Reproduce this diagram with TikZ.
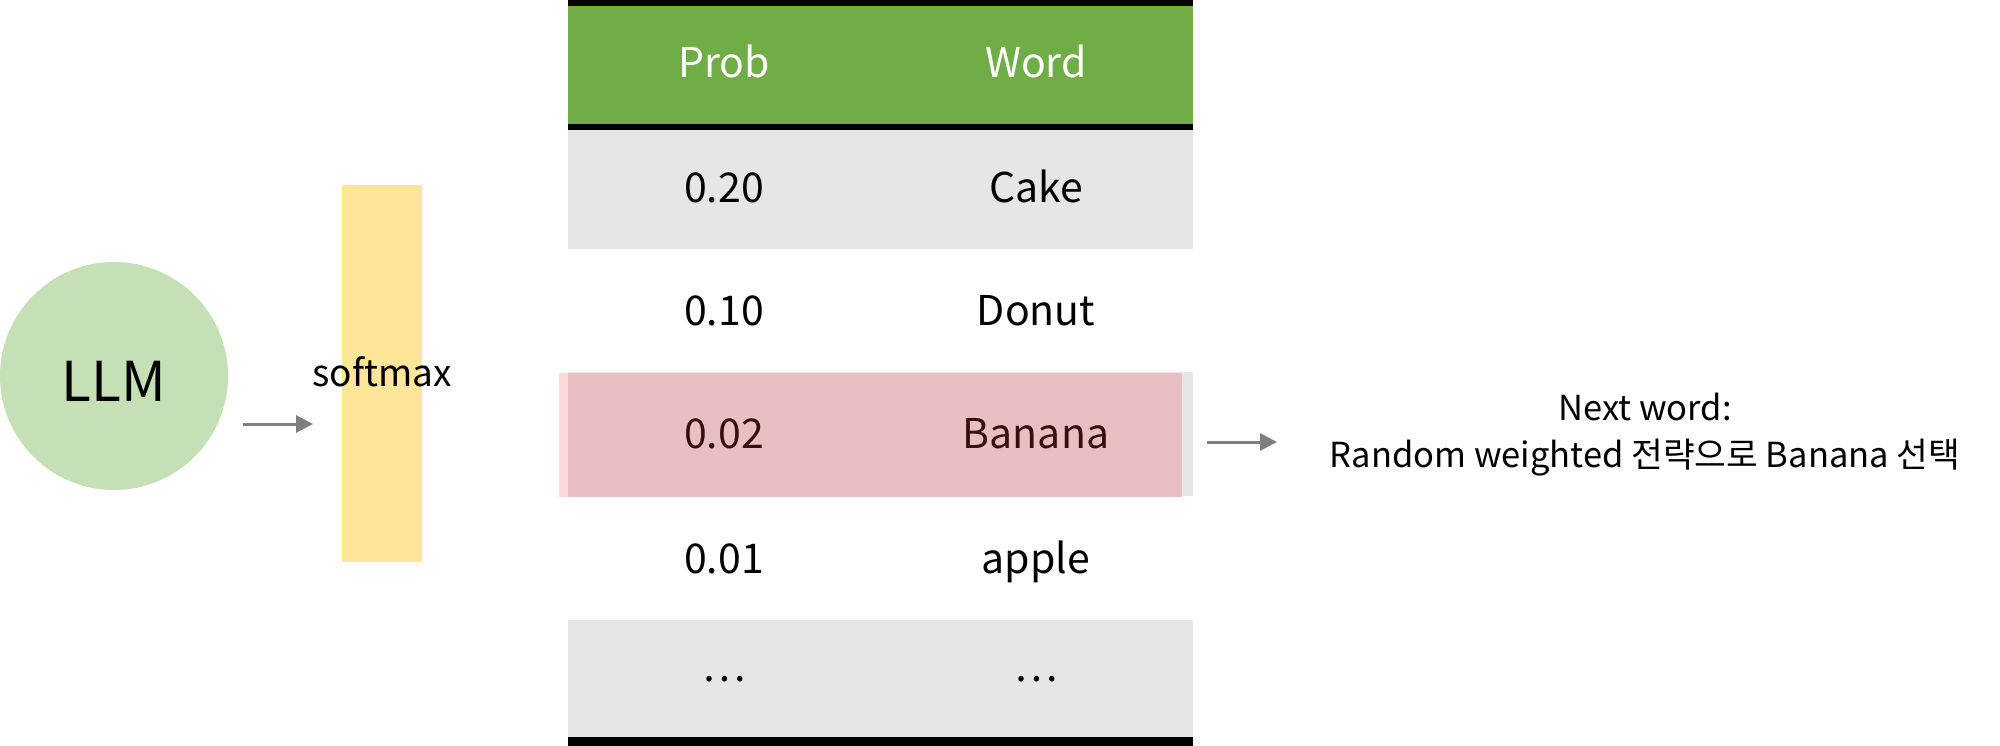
\documentclass[tikz,border=0pt]{standalone}
\usepackage{fontspec}
\setmainfont{Noto Sans CJK KR}
\usetikzlibrary{arrows.meta}
\definecolor{hdrgreen}{HTML}{70AD47}
\definecolor{rowgray}{HTML}{E7E6E6}
\definecolor{llmgreen}{HTML}{C5E0B4}
\definecolor{softyellow}{HTML}{FFE699}
\definecolor{pinkmain}{HTML}{E9C0C1}
\definecolor{pinklight}{HTML}{FFD9D9}
\definecolor{arrgray}{HTML}{7F7F7F}
\definecolor{maroon}{HTML}{3A0C0C}
\tikzset{
  arr/.style={draw=arrgray, line width=3pt, -{Triangle[length=17pt,width=17pt]}},
  tabtxt/.style={anchor=base, inner sep=0pt, font=\fontsize{41}{48}\selectfont},
  hdrtxt/.style={tabtxt, text=white},
  selrow/.style={tabtxt, text=maroon},
  rule/.style={fill=black},
}
\begin{document}
\begin{tikzpicture}[x=1pt,y=-1pt]
\useasboundingbox (0,0) rectangle (2000,746);
% LLM circle
\node[circle, fill=llmgreen, minimum size=228pt, inner sep=0pt] (llm) at (114,376) {};
\node[anchor=base, inner sep=0pt, font=\fontsize{55}{62}\selectfont] (llmtxt) at (114,401) {LLM};
% softmax bar
\node[rectangle, fill=softyellow, minimum width=80pt, minimum height=377pt, inner sep=0pt] (soft) at (382,373.5) {};
\node[anchor=base, inner sep=0pt, font=\fontsize{37}{44}\selectfont] (softtxt) at (382,386) {softmax};
\coordinate (a1s) at (243,424);
\coordinate (a1e) at (313,424);
\draw[arr] (a1s) -- (a1e);
% table
\fill[hdrgreen] (568,6) rectangle (1193,124);
\fill[rowgray] (568,130) rectangle (1193,249);
\fill[rowgray] (568,372) rectangle (1193,496);
\fill[rowgray] (568,620) rectangle (1193,737);
\fill[pinklight] (559,373) rectangle (568,497);
\fill[pinkmain] (568,373) rectangle (1182,497);
\fill[rule] (568,0) rectangle (1193,6);
\fill[rule] (568,124) rectangle (1193,130);
\fill[rule] (568,737) rectangle (1193,746);
\node[hdrtxt] (hprob) at (724,78) {Prob};
\node[hdrtxt] (hword) at (1036,78) {Word};
\node[tabtxt] (p1) at (724,203) {0.20};
\node[tabtxt] (w1) at (1036,203) {Cake};
\node[tabtxt] (p2) at (724,325) {0.10};
\node[tabtxt] (w2) at (1036,325) {Donut};
\node[selrow] (p3) at (724,448) {0.02};
\node[selrow] (w3) at (1036,448) {Banana};
\node[tabtxt] (p4) at (724,573) {0.01};
\node[tabtxt] (w4) at (1036,573) {apple};
\node[tabtxt, anchor=center] (p5) at (724,679) {…};
\node[tabtxt, anchor=center] (w5) at (1036,679) {…};
% result
\coordinate (a2s) at (1207,442);
\coordinate (a2e) at (1277,442);
\draw[arr] (a2s) -- (a2e);
\node[anchor=base, inner sep=0pt, font=\fontsize{34.5}{40}\selectfont] (next1) at (1645,420) {Next word:};
\node[anchor=base, inner sep=0pt, font=\fontsize{34.5}{40}\selectfont] (next2) at (1645,467) {Random weighted 전략으로 Banana 선택};
\end{tikzpicture}
\end{document}
